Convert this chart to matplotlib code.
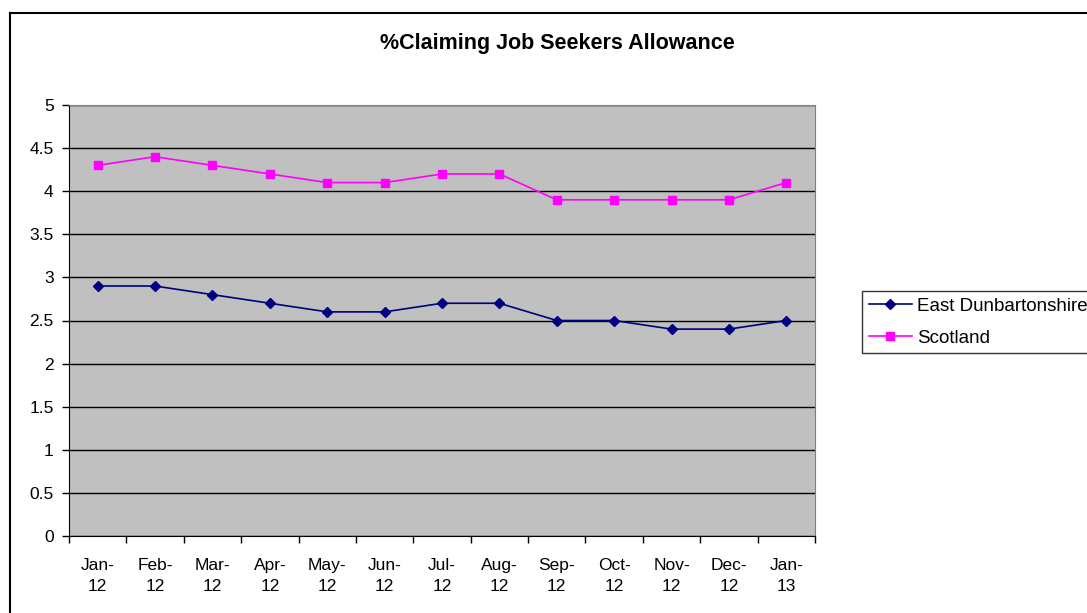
import numpy as np
import matplotlib.pyplot as plt
from matplotlib.lines import Line2D

plt.rcParams['font.family'] = ['Liberation Sans', 'DejaVu Sans']

months = ['Jan-\n12', 'Feb-\n12', 'Mar-\n12', 'Apr-\n12', 'May-\n12', 'Jun-\n12', 'Jul-\n12',
          'Aug-\n12', 'Sep-\n12', 'Oct-\n12', 'Nov-\n12', 'Dec-\n12', 'Jan-\n13']
east_dunbartonshire = [2.9, 2.9, 2.8, 2.7, 2.6, 2.6, 2.7, 2.7, 2.5, 2.5, 2.4, 2.4, 2.5]
scotland = [4.3, 4.4, 4.3, 4.2, 4.1, 4.1, 4.2, 4.2, 3.9, 3.9, 3.9, 3.9, 4.1]
yticks = [0, 0.5, 1, 1.5, 2, 2.5, 3, 3.5, 4, 4.5, 5]

W, H = 1087, 613
fig = plt.figure(figsize=(W / 100, H / 100), dpi=100)
ax = fig.add_axes([69 / W, 1 - 536 / H, (815 - 69) / W, (536 - 105) / H])
ax.set_facecolor('#C0C0C0')

x = np.arange(len(months))
ax.plot(x, east_dunbartonshire, color='#000080', marker='D', markersize=5, lw=1.2,
        label='East Dunbartonshire')
ax.plot(x, scotland, color='#FF00FF', marker='s', markersize=6, lw=1.2, label='Scotland')

ax.set_xlim(-0.5, len(months) - 0.5)
ax.set_ylim(0, 5)
ax.set_yticks(yticks)
ax.set_yticklabels([('%g' % v) for v in yticks])
ax.set_xticks(x)
ax.set_xticklabels(months, linespacing=1.45)
ax.set_xticks(np.arange(-0.5, len(months)), minor=True)
ax.tick_params(axis='x', which='major', length=0, pad=16, labelsize=12.5)
ax.tick_params(axis='x', which='minor', length=5, width=1, direction='out')
ax.tick_params(axis='y', length=5, width=1, direction='out', pad=6, labelsize=12.5)
ax.yaxis.grid(True, color='black', lw=1)
ax.set_axisbelow(True)
for s in ['top', 'right']:
    ax.spines[s].set_color('#808080')
for s in ['left', 'bottom']:
    ax.spines[s].set_color('black')

fig.text(557 / W, 1 - 44 / H, '%Claiming Job Seekers Allowance', ha='center', va='center',
         fontsize=15.5, fontweight='bold')

leg = ax.legend(loc='upper left', bbox_to_anchor=(862 / W, 1 - 291 / H),
                bbox_transform=fig.transFigure, frameon=True, fancybox=False,
                edgecolor='black', fontsize=13.5, handlelength=2.3, borderpad=0.35,
                labelspacing=0.8, handletextpad=0.3, borderaxespad=0)
leg.get_frame().set_linewidth(1)

fig.add_artist(Line2D([10 / W, 10 / W], [0, 1 - 13 / H], color='black', lw=1.5,
                      transform=fig.transFigure))
fig.add_artist(Line2D([10 / W, 1], [1 - 13 / H, 1 - 13 / H], color='black', lw=1.5,
                      transform=fig.transFigure))

fig.savefig('out.png', dpi=100)
